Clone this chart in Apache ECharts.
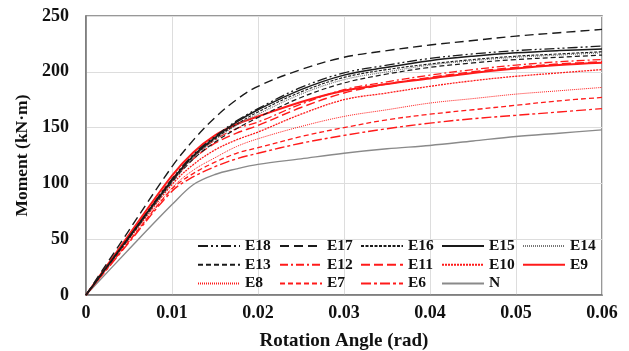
<!DOCTYPE html>
<html><head><meta charset="utf-8">
<script src="https://cdn.jsdelivr.net/npm/echarts@6/dist/echarts.min.js"></script>
<style>html,body{margin:0;padding:0;background:#fff}#c{width:629px;height:351px}</style>
</head><body><div id="c"></div>
<script>
const rotation = [0, 0.005, 0.01, 0.0125, 0.015, 0.0175, 0.02, 0.025, 0.03, 0.035, 0.04, 0.045, 0.05, 0.055, 0.06];
const E18 = [0, 52, 104, 126, 142, 156, 167, 186, 199, 206, 212, 216, 219, 221, 223];
const E17 = [0, 58, 115, 139, 159, 175, 187, 202, 213, 219, 224, 228, 232, 235, 238];
const E16 = [0, 51, 102, 124, 140, 153, 164, 182, 195, 202, 207, 211, 214, 216, 218];
const E15 = [0, 52, 103, 125, 141, 155, 166, 184, 197, 204, 210, 214, 217, 219, 220.5];
const E14 = [0, 51, 101, 123, 139, 152, 162, 180, 193, 200, 206, 210, 213, 215, 217];
const E13 = [0, 51, 101, 122, 137, 149, 159, 177, 190, 198, 204, 208, 211, 213, 215];
const E12 = [0, 52, 104, 124, 139, 149, 155, 171, 184, 191, 197, 202, 206, 209, 211];
const E11 = [0, 51, 102, 122, 136, 145, 152, 168, 181, 189, 195, 200, 204, 207, 209];
const E10 = [0, 50, 99, 117, 130, 139, 146, 162, 175, 181, 187, 192, 196, 199, 202];
const E9  = [0, 54, 107, 128, 143, 153, 160, 173, 183, 189, 194, 199, 203, 206, 208];
const E8  = [0, 48, 96, 112, 123, 133, 140, 151, 160, 166, 172, 176, 180, 183, 186];
const E7  = [0, 48, 95, 109, 119, 127, 132, 142, 150, 157, 162, 166, 170, 174, 177];
const E6  = [0, 47, 93, 106, 115, 122, 127, 136, 143, 149, 154, 158, 161, 164, 167];
const N   = [0, 41, 81, 99, 108, 113, 117, 122, 127, 131, 134, 138, 142, 145, 148];
const xTicks = ['0', '0.01', '0.02', '0.03', '0.04', '0.05', '0.06'];

const BLACK = '#1a1a1a', RED = '#ff1a1a', GRAY = '#8a8a8a';
const styles = {
  E18: {color: BLACK, type: [10, 3, 2, 3, 2, 3], width: 1.3},
  E17: {color: BLACK, type: [9, 5], width: 1.4},
  E16: {color: BLACK, type: [3, 1.5], width: 1.1},
  E15: {color: BLACK, type: 'solid', width: 1.5},
  E14: {color: '#777', type: [1, 1], width: 1.2},
  E13: {color: BLACK, type: [5, 3], width: 1.2},
  E12: {color: RED, type: [8, 3, 2, 3], width: 1.3},
  E11: {color: RED, type: [9, 4], width: 1.4},
  E10: {color: RED, type: [2, 1], width: 1.3},
  E9:  {color: RED, type: 'solid', width: 2},
  E8:  {color: RED, type: [1, 1], width: 1},
  E7:  {color: RED, type: [5, 3], width: 1.3},
  E6:  {color: RED, type: [10, 3, 3, 3], width: 1.4},
  N:   {color: GRAY, type: 'solid', width: 1.4}
};
const dataMap = {E18, E17, E16, E15, E14, E13, E12, E11, E10, E9, E8, E7, E6, N};
const order = ['N', 'E6', 'E7', 'E8', 'E10', 'E11', 'E12', 'E9', 'E13', 'E14', 'E16', 'E15', 'E18', 'E17'];
const series = order.map(name => ({
  name, type: 'line', smooth: 0.35, symbol: 'none', showSymbol: false,
  data: rotation.map((x, i) => [x, dataMap[name][i]]),
  lineStyle: styles[name], itemStyle: {color: styles[name].color}
}));
const font = 'Liberation Serif, Times New Roman, serif';
const cols = [['E18', 'E13', 'E8'], ['E17', 'E12', 'E7'], ['E16', 'E11', 'E6'], ['E15', 'E10', 'N'], ['E14', 'E9']];
const colX = [197, 279, 360, 441, 522];
const legends = cols.map((c, i) => ({
  orient: 'vertical', left: colX[i], top: 238, data: c,
  itemWidth: 42, itemHeight: 10, itemGap: 2.7, padding: 0,
  itemStyle: {opacity: 0},
  textStyle: {fontFamily: font, fontWeight: 'bold', fontSize: 15.5, color: '#111', lineHeight: 16}
}));
legends.unshift({show: true, left: 193, top: 233, width: 405, height: 60, data: [], backgroundColor: '#fff', padding: 0});

const chart = echarts.init(document.getElementById('c'));
chart.setOption({
  animation: false,
  backgroundColor: '#fff',
  grid: {left: 86, right: 27, top: 16, bottom: 56, show: true, borderColor: '#777', borderWidth: 1.5, outerBoundsMode: 'none', containLabel: false},
  legend: legends,
  xAxis: {
    type: 'value', min: 0, max: 0.06, interval: 0.01,
    name: 'Rotation Angle (rad)', nameLocation: 'middle', nameGap: 37,
    nameTextStyle: {fontFamily: font, fontWeight: 'bold', fontSize: 19, color: '#111'},
    axisLine: {lineStyle: {color: '#777', width: 1.5}}, axisTick: {show: false},
    axisLabel: {fontFamily: font, fontWeight: 'bold', fontSize: 18, color: '#111', margin: 9,
      formatter: v => xTicks[Math.round(v / 0.01)]},
    splitLine: {lineStyle: {color: '#ddd', width: 1}}
  },
  yAxis: {
    type: 'value', min: 0, max: 250, interval: 50,
    name: 'Moment (kN·m)', nameLocation: 'middle', nameGap: 52,
    nameTextStyle: {fontFamily: font, fontWeight: 'bold', fontSize: 17.5, color: '#111'},
    axisLine: {show: true, lineStyle: {color: '#777', width: 1.5}}, axisTick: {show: false},
    axisLabel: {fontFamily: font, fontWeight: 'bold', fontSize: 18, color: '#111', margin: 17},
    splitLine: {lineStyle: {color: '#ddd', width: 1}}
  },
  series
});
</script></body></html>
